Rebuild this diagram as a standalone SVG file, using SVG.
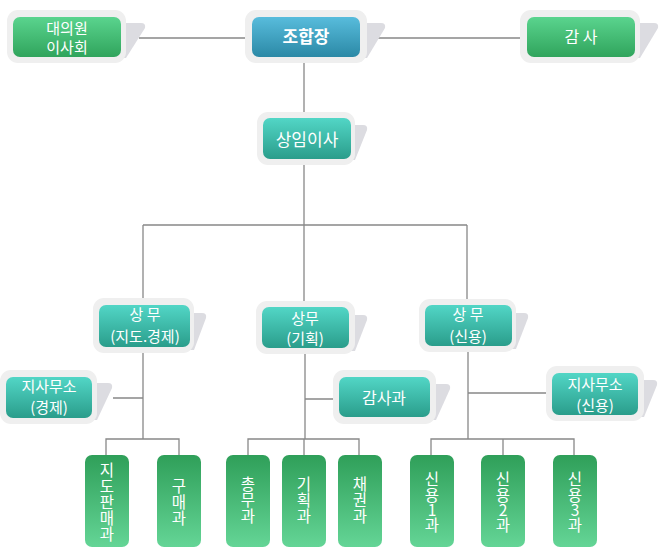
<svg xmlns="http://www.w3.org/2000/svg" width="670" height="555" viewBox="0 0 670 555">
<defs>
<linearGradient id="gGreen" x1="0" y1="0" x2="0" y2="1"><stop offset="0" stop-color="#5ad48e"/><stop offset="1" stop-color="#30a45c"/></linearGradient>
<linearGradient id="gBlue" x1="0" y1="0" x2="0" y2="1"><stop offset="0" stop-color="#58bcdc"/><stop offset="1" stop-color="#2b89a6"/></linearGradient>
<linearGradient id="gTeal" x1="0" y1="0" x2="0" y2="1"><stop offset="0" stop-color="#52d6c6"/><stop offset="1" stop-color="#2a9d8b"/></linearGradient>
<linearGradient id="gCol" x1="0" y1="0" x2="0" y2="1"><stop offset="0" stop-color="#2f9f59"/><stop offset="1" stop-color="#64d596"/></linearGradient>
</defs>
<style>
.outer{fill:#efefef}
.tab{fill:#dcdce1}
.t{fill:#ffffff;font-family:"Noto Sans CJK KR","Noto Sans",sans-serif;text-anchor:middle}
.v{font-size:15.5px}
.conn{stroke:#888888;stroke-width:1.3;fill:none}
</style>
<rect width="670" height="555" fill="#ffffff"/>
<g id="connectors" class="conn">
<path d="M139,38 H245 M367,38 H520 M304,63 V112 M304,165 V225 M143,225 H467 M143,225 V298 M304,225 V301 M467,225 V299"/>
<path d="M143,353 V439 M113,398 H143 M106,455 V439 H179 V455"/>
<path d="M305,354 V439 M305,399 H333 M248,455 V439 H359 V455 M304,439 V455"/>
<path d="M468,352 V439 M468,393 H546 M431,455 V439 H574 V455 M503,439 V455"/>
</g>
<g id="n-daeuiwon">
<path class="tab" d="M121,23 H141 Q146,23 145,28 L126,58 H121 Z"/>
<rect class="outer" x="7" y="10" width="119" height="53" rx="11"/>
<rect x="13" y="17" width="108" height="40" rx="7" fill="url(#gGreen)"/>
<text class="t" font-size="15" x="67" y="34">대의원</text>
<text class="t" font-size="15" x="67" y="53">이사회</text>
</g>
<g id="n-johapjang">
<path class="tab" d="M362,23 H381 Q386,23 385,28 L367,58 H362 Z"/>
<rect class="outer" x="245" y="10" width="122" height="53" rx="11"/>
<rect x="252" y="17" width="108" height="40" rx="7" fill="url(#gBlue)"/>
<text class="t" font-size="17" font-weight="bold" x="306" y="43">조합장</text>
</g>
<g id="n-gamsa">
<path class="tab" d="M635,23 H654 Q659,23 658,28 L640,58 H635 Z"/>
<rect class="outer" x="520" y="10" width="120" height="53" rx="11"/>
<rect x="527" y="17" width="108" height="40" rx="7" fill="url(#gGreen)"/>
<text class="t" font-size="16" x="581" y="43">감 사</text>
</g>
<g id="n-sangim">
<path class="tab" d="M350,125 H363 Q368,125 367,130 L355,160 H350 Z"/>
<rect class="outer" x="257" y="112" width="98" height="53" rx="11"/>
<rect x="263" y="118" width="88" height="41" rx="7" fill="url(#gTeal)"/>
<text class="t" font-size="17" x="307" y="146">상임이사</text>
</g>
<g id="n-sangmu1">
<path class="tab" d="M189,313 H202 Q207,313 206,318 L194,350 H189 Z"/>
<rect class="outer" x="93" y="298" width="101" height="55" rx="11"/>
<rect x="99" y="305" width="91" height="42" rx="7" fill="url(#gTeal)"/>
<text class="t" font-size="15" x="145" y="320">상 무</text>
<text class="t" font-size="15" x="145" y="342">(지도.경제)</text>
</g>
<g id="n-sangmu2">
<path class="tab" d="M350,315 H363 Q368,315 367,320 L355,351 H350 Z"/>
<rect class="outer" x="256" y="301" width="99" height="53" rx="11"/>
<rect x="262" y="307" width="87" height="41" rx="7" fill="url(#gTeal)"/>
<text class="t" font-size="15" x="305" y="324">상무</text>
<text class="t" font-size="15" x="305" y="344">(기획)</text>
</g>
<g id="n-sangmu3">
<path class="tab" d="M511,313 H524 Q529,313 528,318 L516,349 H511 Z"/>
<rect class="outer" x="419" y="299" width="97" height="53" rx="11"/>
<rect x="425" y="305" width="87" height="41" rx="7" fill="url(#gTeal)"/>
<text class="t" font-size="15" x="468" y="320">상 무</text>
<text class="t" font-size="15" x="468" y="342">(신용)</text>
</g>
<g id="n-jisa1">
<path class="tab" d="M92,383 H108 Q113,383 112,388 L97,420 H92 Z"/>
<rect class="outer" x="0" y="370" width="97" height="54" rx="11"/>
<rect x="6" y="377" width="86" height="41" rx="7" fill="url(#gTeal)"/>
<text class="t" font-size="15" x="49" y="392">지사무소</text>
<text class="t" font-size="15" x="49" y="413">(경제)</text>
</g>
<g id="n-gamsagwa">
<path class="tab" d="M431,384 H446 Q451,384 450,389 L436,420 H431 Z"/>
<rect class="outer" x="333" y="370" width="103" height="54" rx="11"/>
<rect x="339" y="377" width="91" height="40" rx="7" fill="url(#gTeal)"/>
<text class="t" font-size="16" x="384" y="404">감사과</text>
</g>
<g id="n-jisa2">
<path class="tab" d="M639,380 H653 Q658,380 657,385 L644,417 H639 Z"/>
<rect class="outer" x="546" y="366" width="98" height="55" rx="11"/>
<rect x="552" y="373" width="86" height="42" rx="7" fill="url(#gTeal)"/>
<text class="t" font-size="15" x="595" y="390">지사무소</text>
<text class="t" font-size="15" x="595" y="411">(신용)</text>
</g>
<g id="n-jido">
<rect x="85" y="455" width="44" height="92" rx="7" fill="url(#gCol)"/>
<text class="t v"><tspan x="107" y="476">지</tspan><tspan x="107" y="492">도</tspan><tspan x="107" y="508">판</tspan><tspan x="107" y="524">매</tspan><tspan x="107" y="540">과</tspan></text>
</g>
<g id="n-gumae">
<rect x="157" y="455" width="44" height="92" rx="7" fill="url(#gCol)"/>
<text class="t v"><tspan x="179" y="492">구</tspan><tspan x="179" y="508">매</tspan><tspan x="179" y="524">과</tspan></text>
</g>
<g id="n-chongmu">
<rect x="226" y="455" width="44" height="92" rx="7" fill="url(#gCol)"/>
<text class="t v"><tspan x="248" y="490">총</tspan><tspan x="248" y="506">무</tspan><tspan x="248" y="522">과</tspan></text>
</g>
<g id="n-gihoek">
<rect x="282" y="455" width="44" height="92" rx="7" fill="url(#gCol)"/>
<text class="t v"><tspan x="304" y="490">기</tspan><tspan x="304" y="506">획</tspan><tspan x="304" y="522">과</tspan></text>
</g>
<g id="n-chaegwon">
<rect x="338" y="455" width="44" height="92" rx="7" fill="url(#gCol)"/>
<text class="t v"><tspan x="360" y="490">채</tspan><tspan x="360" y="506">권</tspan><tspan x="360" y="522">과</tspan></text>
</g>
<g id="n-sinyong1">
<rect x="410" y="455" width="44" height="92" rx="7" fill="url(#gCol)"/>
<text class="t v"><tspan x="432" y="485">신</tspan><tspan x="432" y="501">용</tspan><tspan x="432" y="516">1</tspan><tspan x="432" y="531">과</tspan></text>
</g>
<g id="n-sinyong2">
<rect x="481" y="455" width="44" height="92" rx="7" fill="url(#gCol)"/>
<text class="t v"><tspan x="503" y="485">신</tspan><tspan x="503" y="501">용</tspan><tspan x="503" y="516">2</tspan><tspan x="503" y="531">과</tspan></text>
</g>
<g id="n-sinyong3">
<rect x="553" y="455" width="44" height="92" rx="7" fill="url(#gCol)"/>
<text class="t v"><tspan x="575" y="485">신</tspan><tspan x="575" y="501">용</tspan><tspan x="575" y="516">3</tspan><tspan x="575" y="531">과</tspan></text>
</g>
</svg>
